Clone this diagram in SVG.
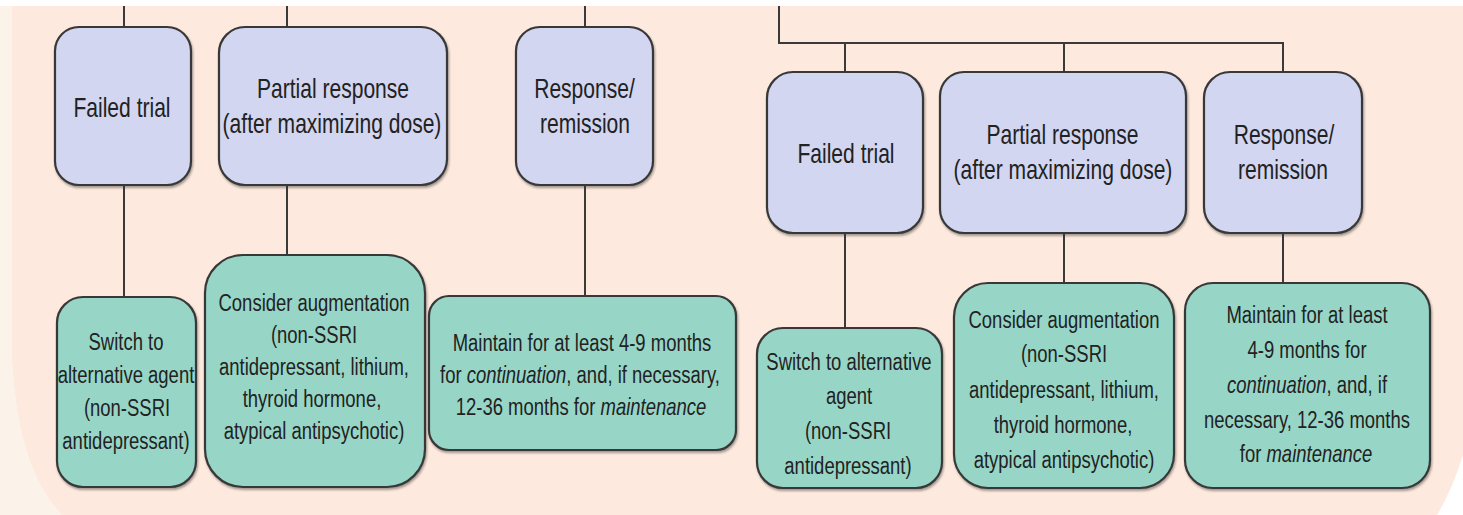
<svg xmlns="http://www.w3.org/2000/svg" width="1463" height="515" viewBox="0 0 1463 515">
<defs>
<filter id="sh" x="-5%" y="-5%" width="110%" height="115%">
<feDropShadow dx="1" dy="2" stdDeviation="1" flood-color="#333" flood-opacity="0.45"/>
</filter>
</defs>
<style>
.blue{fill:#d2d6f0;stroke:#383838;stroke-width:2.2;filter:url(#sh)}
.green{fill:#97d6c7;stroke:#383838;stroke-width:2.2;filter:url(#sh)}
.conn path{fill:none;stroke:#3a3a3a;stroke-width:2}
text{font-family:"Liberation Sans",Arial,sans-serif;font-size:24px;fill:#222222;text-anchor:middle}
text.top{font-size:27px}
.i{font-style:italic}
</style>
<rect x="0" y="0" width="1463" height="515" fill="#ffffff"/>
<path d="M0,6 H12 V360 Q18,470 62,515 H0 Z" fill="#fbf2e9"/>
<path d="M10,6 H1463 V455 Q1452,490 1437,515 H62 Q18,470 12,360 V6 Z" fill="#fde9dd"/>

<g class="conn" id="connectors">
<path d="M124,6 V27"/>
<path d="M287,6 V27"/>
<path d="M585,6 V27"/>
<path d="M124,185 V297"/>
<path d="M287,185 V255"/>
<path d="M585,185 V296"/>
<path d="M779,6 V43 H1283 V72"/>
<path d="M845,43 V72"/>
<path d="M1064,43 V72"/>
<path d="M845,233 V328"/>
<path d="M1064,233 V283"/>
<path d="M1283,233 V283"/>
</g>

<g id="failed-left">
<rect class="blue" x="55" y="27" width="136" height="158" rx="24"/>
<text class="top" transform="translate(122,117) scale(0.78,1)">Failed trial</text>
</g>
<g id="partial-left">
<rect class="blue" x="219" y="27" width="228" height="158" rx="26"/>
<text class="top" transform="translate(333,98) scale(0.78,1)">Partial response</text>
<text class="top" transform="translate(332,133) scale(0.78,1)">(after maximizing dose)</text>
</g>
<g id="response-left">
<rect class="blue" x="516" y="27" width="137" height="158" rx="24"/>
<text class="top" transform="translate(584.5,98) scale(0.78,1)">Response/</text>
<text class="top" transform="translate(585,133) scale(0.78,1)">remission</text>
</g>
<g id="switch-left">
<rect class="green" x="57" y="297" width="139" height="190" rx="26"/>
<text transform="translate(126,350) scale(0.77,1)">Switch to</text>
<text transform="translate(126,383) scale(0.77,1)">alternative agent</text>
<text transform="translate(127,416) scale(0.77,1)">(non-SSRI</text>
<text transform="translate(126,449) scale(0.77,1)">antidepressant)</text>
</g>
<g id="augment-left">
<rect class="green" x="205" y="255" width="220" height="232" rx="38"/>
<text transform="translate(314,311) scale(0.77,1)">Consider augmentation</text>
<text transform="translate(314,343) scale(0.77,1)">(non-SSRI</text>
<text transform="translate(314,375) scale(0.77,1)">antidepressant, lithium,</text>
<text transform="translate(312,407) scale(0.77,1)">thyroid hormone,</text>
<text transform="translate(314,439) scale(0.77,1)">atypical antipsychotic)</text>
</g>
<g id="maintain-left">
<rect class="green" x="429" y="296" width="307" height="154" rx="20"/>
<text transform="translate(582,351) scale(0.77,1)">Maintain for at least 4-9 months</text>
<text transform="translate(580,383) scale(0.77,1)">for <tspan class="i">continuation</tspan>, and, if necessary,</text>
<text transform="translate(581,415) scale(0.77,1)">12-36 months for <tspan class="i">maintenance</tspan></text>
</g>

<g id="failed-right">
<rect class="blue" x="767" y="72" width="156" height="161" rx="26"/>
<text class="top" transform="translate(846,163) scale(0.78,1)">Failed trial</text>
</g>
<g id="partial-right">
<rect class="blue" x="940" y="72" width="246" height="161" rx="24"/>
<text class="top" transform="translate(1062.5,144) scale(0.78,1)">Partial response</text>
<text class="top" transform="translate(1063,179) scale(0.78,1)">(after maximizing dose)</text>
</g>
<g id="response-right">
<rect class="blue" x="1204" y="72" width="158" height="161" rx="26"/>
<text class="top" transform="translate(1284,144) scale(0.78,1)">Response/</text>
<text class="top" transform="translate(1283,179) scale(0.78,1)">remission</text>
</g>
<g id="switch-right">
<rect class="green" x="757" y="328" width="185" height="160" rx="26"/>
<text transform="translate(849,370) scale(0.77,1)">Switch to alternative</text>
<text transform="translate(849,404) scale(0.77,1)">agent</text>
<text transform="translate(848,439) scale(0.77,1)">(non-SSRI</text>
<text transform="translate(848,474) scale(0.77,1)">antidepressant)</text>
</g>
<g id="augment-right">
<rect class="green" x="954" y="283" width="220" height="205" rx="34"/>
<text transform="translate(1064,328) scale(0.77,1)">Consider augmentation</text>
<text transform="translate(1064,362) scale(0.77,1)">(non-SSRI</text>
<text transform="translate(1064,398) scale(0.77,1)">antidepressant, lithium,</text>
<text transform="translate(1063,433) scale(0.77,1)">thyroid hormone,</text>
<text transform="translate(1064,468) scale(0.77,1)">atypical antipsychotic)</text>
</g>
<g id="maintain-right">
<rect class="green" x="1185" y="283" width="245" height="205" rx="28"/>
<text transform="translate(1307,323) scale(0.77,1)">Maintain for at least</text>
<text transform="translate(1307,358) scale(0.77,1)">4-9 months for</text>
<text transform="translate(1307,393) scale(0.77,1)"><tspan class="i">continuation</tspan>, and, if</text>
<text transform="translate(1307,428) scale(0.77,1)">necessary, 12-36 months</text>
<text transform="translate(1306,462) scale(0.77,1)">for <tspan class="i">maintenance</tspan></text>
</g>
</svg>
